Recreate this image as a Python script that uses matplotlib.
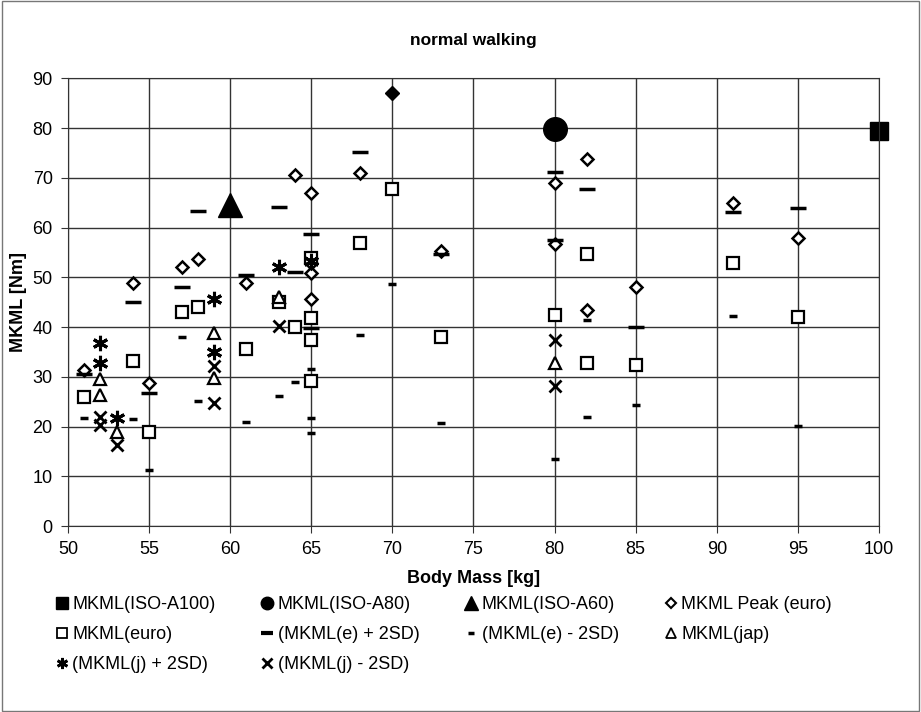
import matplotlib.pyplot as plt
from matplotlib.patches import Rectangle
from matplotlib.lines import Line2D

plt.rcParams['font.family'] = ['Liberation Sans', 'DejaVu Sans']

# ISO reference values
iso100_x = [100]
iso100_y = [79.5]
iso80_x = [80]
iso80_y = [79.8]
iso60_x = [60]
iso60_y = [64.6]

# MKML Peak (euro)
peak_x = [51, 54, 55, 57, 58, 61, 64, 65, 65, 65, 65, 68, 73, 80, 80, 82, 82, 85, 91, 95]
peak_y = [31.4, 48.9, 28.7, 52.1, 53.7, 48.9, 70.6, 66.9, 50.8, 45.7, 52.8, 70.9, 55.2, 68.9, 56.7, 73.7, 43.5, 48.0, 65.0, 57.9]

# filled point at 70 kg
extra_x = [70]
extra_y = [87.0]

# MKML(euro)
euro_x = [51, 54, 55, 57, 58, 61, 63, 64, 65, 65, 65, 65, 68, 70, 73, 80, 82, 82, 85, 91, 95]
euro_y = [25.9, 33.2, 18.9, 43.0, 44.1, 35.6, 45.0, 40.0, 53.8, 41.9, 37.5, 29.1, 56.9, 67.7, 38.0, 42.5, 54.7, 32.8, 32.4, 52.9, 42.1]

# (MKML(e) + 2SD)
ep_x = [51, 54, 55, 57, 58, 61, 63, 64, 65, 65, 68, 73, 80, 80, 82, 85, 91, 95]
ep_y = [30.6, 45.1, 26.7, 48.0, 63.4, 50.5, 64.1, 51.0, 58.7, 39.8, 75.1, 54.6, 71.2, 57.5, 67.7, 40.1, 63.1, 63.9]

# (MKML(e) - 2SD)
em_x = [51, 54, 55, 57, 58, 61, 63, 64, 65, 65, 65, 68, 70, 73, 80, 82, 82, 85, 91, 95]
em_y = [21.7, 21.5, 11.2, 38.0, 25.2, 21.0, 26.2, 29.0, 31.6, 21.8, 18.7, 38.5, 48.6, 20.8, 13.4, 41.5, 21.9, 24.4, 42.3, 20.2]

# MKML(jap)
jap_x = [52, 52, 53, 59, 59, 63, 80]
jap_y = [29.6, 26.4, 18.9, 38.8, 29.8, 46.0, 32.8]

# (MKML(j) + 2SD)
jp_x = [52, 52, 53, 59, 59, 63, 65]
jp_y = [36.9, 32.8, 21.7, 45.7, 35.1, 52.0, 53.2]

# (MKML(j) - 2SD)
jm_x = [52, 52, 53, 59, 59, 63, 80, 80]
jm_y = [22.0, 20.4, 16.4, 32.1, 24.7, 40.3, 37.4, 28.2]

labels = ['MKML(ISO-A100)', 'MKML(ISO-A80)', 'MKML(ISO-A60)', 'MKML Peak (euro)',
          'MKML(euro)', '(MKML(e) + 2SD)', '(MKML(e) - 2SD)', 'MKML(jap)',
          '(MKML(j) + 2SD)', '(MKML(j) - 2SD)']

fig = plt.figure(figsize=(9.21, 7.12), dpi=100)
ax = fig.add_axes([0.0738, 0.261, 0.8806, 0.629])

k = dict(linestyle='none', color='black', clip_on=False)
ax.plot(iso100_x, iso100_y, marker='s', markersize=13, **k)
ax.plot(iso80_x, iso80_y, marker='o', markersize=17, **k)
ax.plot(iso60_x, iso60_y, marker='^', markersize=17, **k)
ax.plot(peak_x, peak_y, marker='D', markersize=6, markerfacecolor='white', markeredgewidth=1.8, **k)
ax.plot(extra_x, extra_y, marker='D', markersize=7, **k)
ax.plot(euro_x, euro_y, marker='s', markersize=9, markerfacecolor='white', markeredgewidth=1.6, **k)
ax.plot(ep_x, ep_y, marker='_', markersize=11, markeredgewidth=2.5, **k)
ax.plot(em_x, em_y, marker='_', markersize=6, markeredgewidth=2.5, **k)
ax.plot(jap_x, jap_y, marker='^', markersize=9, markerfacecolor='white', markeredgewidth=1.6, **k)
ax.plot(jp_x, jp_y, marker=(6, 2, 0), markersize=11, markeredgewidth=2.2, **k)
ax.plot(jm_x, jm_y, marker='x', markersize=9, markeredgewidth=2, **k)

ax.set_xlim(50, 100)
ax.set_ylim(0, 90)
ax.set_xticks(range(50, 101, 5))
ax.set_yticks(range(0, 91, 10))
ax.grid(True, color='#333333', linewidth=1)
ax.set_axisbelow(True)
for s in ax.spines.values():
    s.set_color('#333333')
ax.tick_params(labelsize=13, length=5, color='#333333', pad=6)
ax.set_xlabel('Body Mass [kg]', fontsize=13, fontweight='bold', labelpad=8)
ax.set_ylabel('MKML [Nm]', fontsize=13, fontweight='bold', labelpad=4)
ax.set_title('normal walking', fontsize=12.5, fontweight='bold', pad=24)

# small legend markers, Excel style
lk = dict(linestyle='none', color='black')
leg_handles = [
    Line2D([], [], marker='s', markersize=9, **lk),
    Line2D([], [], marker='o', markersize=9, **lk),
    Line2D([], [], marker='^', markersize=10, **lk),
    Line2D([], [], marker='D', markersize=5, markerfacecolor='white', markeredgewidth=1.5, **lk),
    Line2D([], [], marker='s', markersize=7, markerfacecolor='white', markeredgewidth=1.3, **lk),
    Line2D([], [], marker='_', markersize=8, markeredgewidth=3, **lk),
    Line2D([], [], marker='_', markersize=5, markeredgewidth=2.5, **lk),
    Line2D([], [], marker='^', markersize=7, markerfacecolor='white', markeredgewidth=1.3, **lk),
    Line2D([], [], marker=(6, 2, 0), markersize=8, markeredgewidth=2, **lk),
    Line2D([], [], marker='x', markersize=7, markeredgewidth=2, **lk),
]
# reorder so the legend reads row by row
order = [0, 4, 8, 1, 5, 9, 2, 6, 3, 7]
fig.legend(handles=[leg_handles[i] for i in order], labels=[labels[i] for i in order],
           loc='upper left', bbox_to_anchor=(0.06, 0.163), ncol=4,
           frameon=False, fontsize=13, handlelength=0.7, handletextpad=0.25,
           columnspacing=2.5, labelspacing=0.72, borderaxespad=0, borderpad=0)

fig.patches.append(Rectangle((0.002, 0.002), 0.996, 0.996, transform=fig.transFigure,
                             fill=False, edgecolor='#777777', linewidth=1))

plt.savefig('out.png', dpi=100)
